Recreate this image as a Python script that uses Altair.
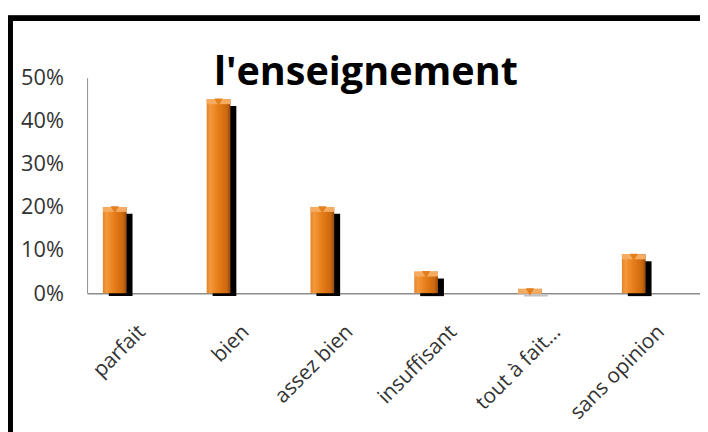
import altair as alt
import pandas as pd

categories = ["parfait", "bien", "assez bien", "insuffisant", "tout à fait…", "sans opinion"]
values = [0.20, 0.45, 0.20, 0.05, 0.01, 0.09]
y_ticks = [0, 0.1, 0.2, 0.3, 0.4, 0.5]
title_text = ["l'enseignement"]

df = pd.DataFrame({"cat": categories, "val": values, "zero": [0.0] * len(categories)})
df_title = pd.DataFrame({"t": title_text})

FONT = "Open Sans"
LABEL_COLOR = "#333333"

xscale = alt.Scale(paddingInner=0.7714, paddingOuter=0.338, align=0.225)
yscale = alt.Scale(domain=[0, 0.5], nice=False)

x_enc = alt.X(
    "cat:N", sort=categories, scale=xscale,
    axis=alt.Axis(title=None, labelAngle=-45, labelAlign="right", labelBaseline="top",
                  labelOffset=20, labelPadding=28, ticks=False, domainColor="#8c8c8c",
                  domainWidth=1.5, labelFont=FONT, labelFontSize=21, labelColor=LABEL_COLOR,
                  grid=False),
)
y_enc = alt.Y(
    "val:Q", scale=yscale,
    axis=alt.Axis(title=None, values=y_ticks, format="%", ticks=False, grid=False,
                  domainColor="#8c8c8c", labelFont=FONT, labelFontSize=22,
                  labelColor=LABEL_COLOR, labelPadding=24),
)

base = alt.Chart(df)

frame = base.mark_rect(fill=None, stroke="black", strokeWidth=5).encode(
    x=alt.value(-78), x2=alt.value(1200), y=alt.value(-60), y2=alt.value(1200)
)

shadow = base.mark_bar(color="black", xOffset=6, yOffset=7, y2Offset=3).encode(
    x=x_enc, y=y_enc, y2=alt.Y2("zero:Q")
)

front_grad = alt.Gradient(
    gradient="linear",
    stops=[
        alt.GradientStop(color="#E28430", offset=0),
        alt.GradientStop(color="#F5983A", offset=0.15),
        alt.GradientStop(color="#E47C18", offset=0.5),
        alt.GradientStop(color="#CC680F", offset=0.85),
        alt.GradientStop(color="#924A10", offset=1),
    ],
    x1=0, x2=1, y1=0, y2=0,
)
front = base.mark_bar(color=front_grad).encode(x=x_enc, y=y_enc)

cap = base.mark_bar(color="#F6AC60", y2Offset=5).encode(
    x=x_enc, y=y_enc, y2=alt.Y2("val:Q")
)
tri = base.mark_point(shape="triangle-down", filled=True, size=70, color="#E2801F",
                      opacity=1, yOffset=3).encode(x=x_enc, y=y_enc)

title = alt.Chart(df_title).mark_text(
    font=FONT, fontSize=40, fontWeight="bold", color="black",
    align="center", baseline="alphabetic",
).encode(text="t:N", x=alt.value(282), y=alt.value(7))

chart = alt.layer(frame, shadow, front, cap, tri, title).properties(
    width=620, height=218,
    autosize="none",
    background="white",
    padding={"left": 80, "top": 68, "right": 0, "bottom": 138},
).configure_view(stroke="transparent", strokeWidth=0)

chart.save("out.html", embed_options={"renderer": "svg", "actions": False})
